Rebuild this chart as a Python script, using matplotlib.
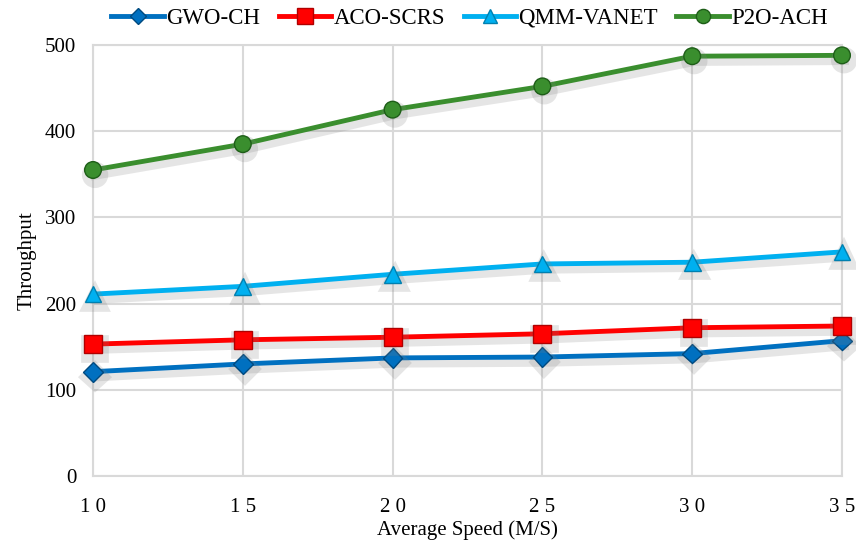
import numpy as np
import matplotlib
matplotlib.use("Agg")
import matplotlib.pyplot as plt
import matplotlib.patheffects as pe
from matplotlib.lines import Line2D

plt.rcParams['font.family'] = ['Liberation Serif', 'DejaVu Serif']

speed = [10, 15, 20, 25, 30, 35]
speed_labels = ['1 0', '1 5', '2 0', '2 5', '3 0', '3 5']

gwo_ch = [121, 130, 137, 138, 142, 157]
aco_scrs = [153, 158, 161, 165, 172, 174]
qmm_vanet = [211, 220, 234, 246, 248, 260]
p2o_ach = [355, 385, 425, 452, 487, 488]

series = [
    ('GWO-CH', gwo_ch, '#0070C0', '#004A80', 'D', 10),
    ('ACO-SCRS', aco_scrs, '#FF0000', '#B00000', 's', 13),
    ('QMM-VANET', qmm_vanet, '#00B0F0', '#0080B0', '^', 12),
    ('P2O-ACH', p2o_ach, '#3A8E2E', '#1E5E18', 'o', 12),
]

fig = plt.figure(figsize=(8.56, 5.45), dpi=100)
ax = fig.add_axes([93/856, 1 - 476/545, (842-93)/856, (476-45)/545])

shadow = [pe.SimpleLineShadow(offset=(1.5, -3.5), shadow_color='gray', alpha=0.2, linewidth=7),
          pe.Normal()]

handles = []
for name, vals, col, edge, mk, ms in series:
    ax.plot(speed, vals, color=col, lw=3.5, marker=mk, markersize=ms,
            markerfacecolor=col, markeredgecolor=edge, markeredgewidth=1,
            path_effects=shadow, zorder=3, clip_on=False)
    # legend keys without the shadow, slightly smaller markers
    handles.append(Line2D([], [], color=col, lw=3.5, marker=mk, markersize=ms * 0.85,
                          markerfacecolor=col, markeredgecolor=edge, label=name))

ax.set_xlim(10, 35)
ax.set_ylim(0, 500)
ax.set_xticks(speed)
ax.set_xticklabels(speed_labels)
ax.set_yticks([0, 100, 200, 300, 400, 500])
ax.grid(True, color='#D9D9D9', lw=1.5)
ax.set_axisbelow(True)
for s in ax.spines.values():
    s.set_color('#D9D9D9')
    s.set_linewidth(1.5)
ax.tick_params(length=0, labelsize=15, colors='black')
ax.tick_params(axis='x', pad=16)
ax.tick_params(axis='y', pad=12)

ax.set_xlabel('Average Speed (M/S)', fontsize=15, labelpad=2)
ax.set_ylabel('Throughput', fontsize=15, labelpad=6)

ax.legend(handles=handles, loc='center', bbox_to_anchor=(0.503, 1.062), ncol=4, frameon=False,
          fontsize=16.5, handlelength=2.3, handletextpad=0.1, columnspacing=0.8)

fig.savefig('out.png', dpi=100)
